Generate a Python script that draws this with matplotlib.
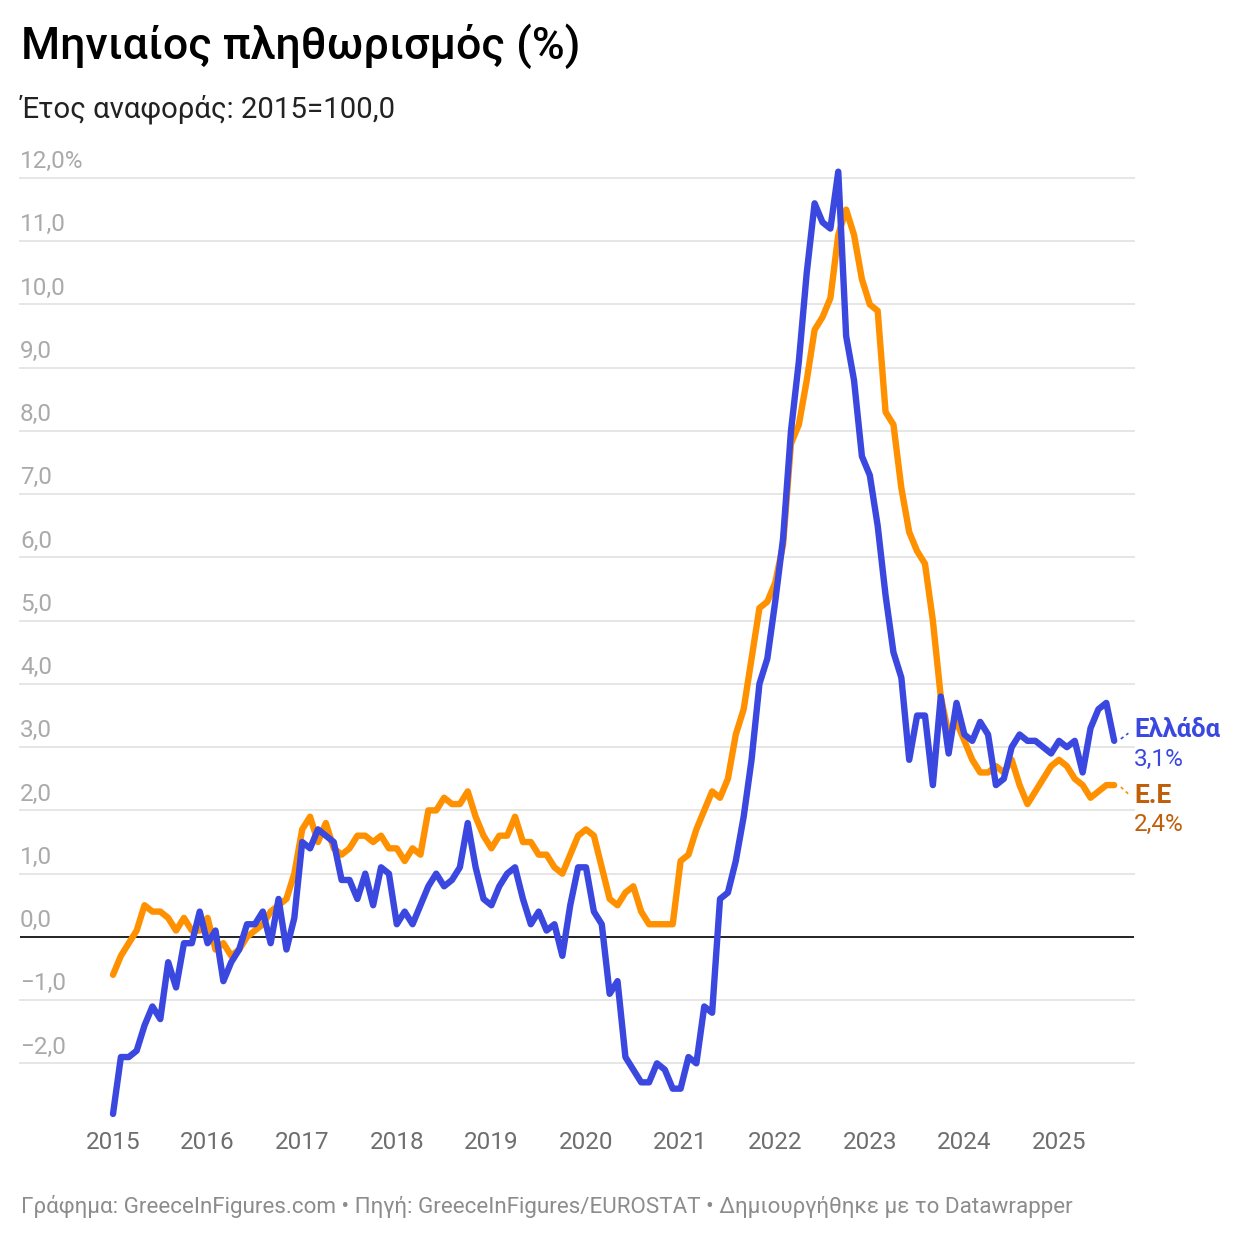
import numpy as np
import matplotlib
matplotlib.use("Agg")
import matplotlib.pyplot as plt

plt.rcParams['font.family'] = ['Roboto', 'DejaVu Sans']

# monthly values, Jan 2015 - Aug 2025
greece = [
    -2.8, -1.9, -1.9, -1.8, -1.4, -1.1, -1.3, -0.4, -0.8, -0.1, -0.1, 0.4,
    -0.1, 0.1, -0.7, -0.4, -0.2, 0.2, 0.2, 0.4, -0.1, 0.6, -0.2, 0.3,
    1.5, 1.4, 1.7, 1.6, 1.5, 0.9, 0.9, 0.6, 1.0, 0.5, 1.1, 1.0,
    0.2, 0.4, 0.2, 0.5, 0.8, 1.0, 0.8, 0.9, 1.1, 1.8, 1.1, 0.6,
    0.5, 0.8, 1.0, 1.1, 0.6, 0.2, 0.4, 0.1, 0.2, -0.3, 0.5, 1.1,
    1.1, 0.4, 0.2, -0.9, -0.7, -1.9, -2.1, -2.3, -2.3, -2.0, -2.1, -2.4,
    -2.4, -1.9, -2.0, -1.1, -1.2, 0.6, 0.7, 1.2, 1.9, 2.8, 4.0, 4.4,
    5.3, 6.3, 8.0, 9.1, 10.5, 11.6, 11.3, 11.2, 12.1, 9.5, 8.8, 7.6,
    7.3, 6.5, 5.4, 4.5, 4.1, 2.8, 3.5, 3.5, 2.4, 3.8, 2.9, 3.7,
    3.2, 3.1, 3.4, 3.2, 2.4, 2.5, 3.0, 3.2, 3.1, 3.1, 3.0, 2.9,
    3.1, 3.0, 3.1, 2.6, 3.3, 3.6, 3.7, 3.1,
]
eu = [
    -0.6, -0.3, -0.1, 0.1, 0.5, 0.4, 0.4, 0.3, 0.1, 0.3, 0.1, 0.1,
    0.3, -0.2, -0.1, -0.3, -0.2, 0.0, 0.1, 0.2, 0.4, 0.5, 0.6, 1.0,
    1.7, 1.9, 1.5, 1.8, 1.4, 1.3, 1.4, 1.6, 1.6, 1.5, 1.6, 1.4,
    1.4, 1.2, 1.4, 1.3, 2.0, 2.0, 2.2, 2.1, 2.1, 2.3, 1.9, 1.6,
    1.4, 1.6, 1.6, 1.9, 1.5, 1.5, 1.3, 1.3, 1.1, 1.0, 1.3, 1.6,
    1.7, 1.6, 1.1, 0.6, 0.5, 0.7, 0.8, 0.4, 0.2, 0.2, 0.2, 0.2,
    1.2, 1.3, 1.7, 2.0, 2.3, 2.2, 2.5, 3.2, 3.6, 4.4, 5.2, 5.3,
    5.6, 6.2, 7.8, 8.1, 8.8, 9.6, 9.8, 10.1, 11.1, 11.5, 11.1, 10.4,
    10.0, 9.9, 8.3, 8.1, 7.1, 6.4, 6.1, 5.9, 5.0, 3.8, 3.2, 3.4,
    3.1, 2.8, 2.6, 2.6, 2.7, 2.6, 2.8, 2.4, 2.1, 2.3, 2.5, 2.7,
    2.8, 2.7, 2.5, 2.4, 2.2, 2.3, 2.4, 2.4,
]
y_ticks = [-2, -1, 0, 1, 2, 3, 4, 5, 6, 7, 8, 9, 10, 11, 12]
y_labels = ["\u22122,0", "\u22121,0", "0,0", "1,0", "2,0", "3,0", "4,0", "5,0",
            "6,0", "7,0", "8,0", "9,0", "10,0", "11,0", "12,0%"]
years = list(range(2015, 2026))

BLUE = "#3b48e0"
ORANGE = "#ff9000"
BROWN = "#c05f0a"
W = 1240.0

fig = plt.figure(figsize=(12.4, 12.4), dpi=100)
fig.patch.set_facecolor("white")
# axes box in pixels: x 20-1134, y 178-1120
ax = fig.add_axes([20 / W, 1 - 1120 / W, 1114 / W, 942 / W])
px_year = 94.6
ax.set_xlim(2015 - 93 / px_year, 2015 + 1021 / px_year)
ax.set_ylim(-183 / 63.2, 12.0)
for s in ax.spines.values():
    s.set_visible(False)

t = 2015 + np.arange(len(greece)) / 12
for v in y_ticks:
    if v == 0:
        ax.axhline(v, color="#111111", lw=1.3, zorder=2)
    else:
        ax.axhline(v, color="#e6e6e6", lw=1.4, zorder=1, clip_on=False)
ax.plot(t, eu, color=ORANGE, lw=4.6, solid_joinstyle="round", solid_capstyle="round", zorder=3, clip_on=False)
ax.plot(t, greece, color=BLUE, lw=4.6, solid_joinstyle="round", solid_capstyle="round", zorder=4, clip_on=False)

ax.set_yticks([])
ax.set_xticks(years)
ax.set_xticklabels([str(y) for y in years], fontsize=17.5, color="#6e6e6e")
ax.tick_params(axis="x", length=0, pad=8)

trans = ax.get_yaxis_transform()
for v, lab in zip(y_ticks, y_labels):
    ax.annotate(lab, xy=(0, v), xycoords=trans, xytext=(0, 3.5), textcoords="offset points",
                fontsize=17.5, color="#aaaaaa", ha="left", va="bottom")

# end labels
ax.plot([t[-1] + 0.07, t[-1] + 0.15], [greece[-1] + 0.03, greece[-1] + 0.12], color=BLUE, lw=1.2, ls=(0, (2, 2)), clip_on=False)
ax.plot([t[-1] + 0.07, t[-1] + 0.15], [eu[-1] - 0.03, eu[-1] - 0.14], color=ORANGE, lw=1.2, ls=(0, (2, 2)), clip_on=False)
fig.text(1134 / W, 1 - 730 / W, "Ελλάδα", fontsize=18.5, fontweight="bold", color=BLUE, va="center")
fig.text(1134 / W, 1 - 759 / W, "3,1%", fontsize=17.5, color=BLUE, va="center")
fig.text(1134 / W, 1 - 796 / W, "Ε.Ε", fontsize=19, fontweight="bold", color=BROWN, va="center")
fig.text(1134 / W, 1 - 824 / W, "2,4%", fontsize=17.5, color=BROWN, va="center")

fig.text(21 / W, 1 - 46 / W, "Μηνιαίος πληθωρισμός (%)", fontsize=32.2, fontweight="medium", color="black", va="center")
fig.text(21 / W, 1 - 109 / W, "Έτος αναφοράς: 2015=100,0", fontsize=21.15, color="#222222", va="center")
fig.text(21 / W, 1 - 1207 / W, "Γράφημα: GreeceInFigures.com • Πηγή: GreeceInFigures/EUROSTAT • Δημιουργήθηκε με το Datawrapper",
         fontsize=16.08, color="#8c8c8c", va="center")

fig.savefig("out.png", dpi=100)
